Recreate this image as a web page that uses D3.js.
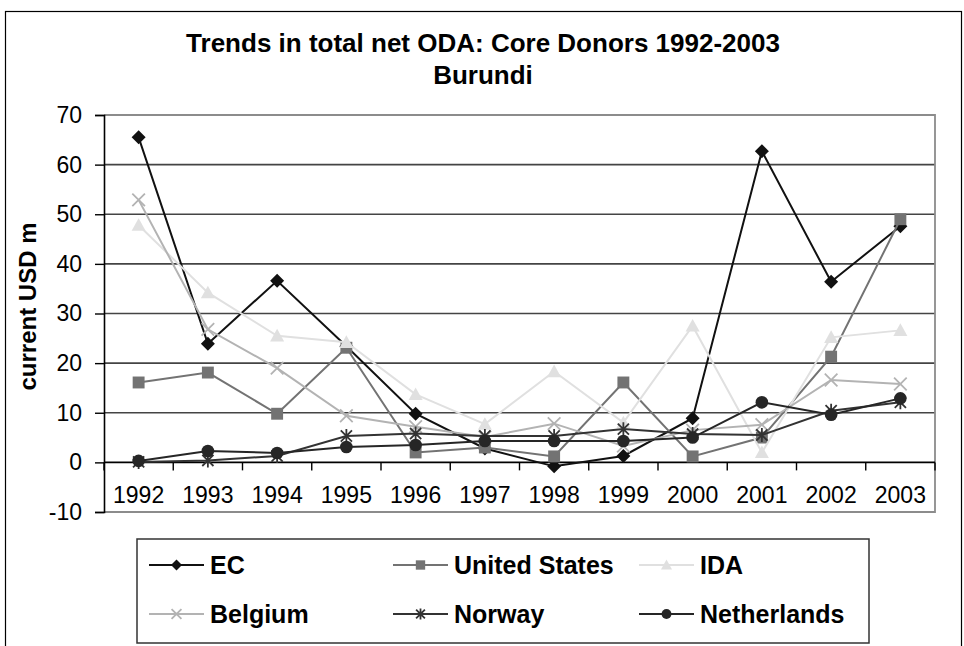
<!DOCTYPE html>
<html lang="en">
<head>
<meta charset="utf-8">
<title>Trends in total net ODA: Burundi</title>
<script src="https://cdn.jsdelivr.net/npm/d3@7"></script>
<style>
  body { margin: 0; background: #fff; }
  text { font-family: "Liberation Sans", Arial, sans-serif; }
</style>
</head>
<body>
<script>
// categories and series (current USD m)
var years = ["1992","1993","1994","1995","1996","1997","1998","1999","2000","2001","2002","2003"];
var ecVals          = [65.5, 23.9, 36.6, 23.4, 9.8, 2.8, -0.8, 1.3, 8.9, 62.7, 36.4, 47.6];
var usVals          = [16.1, 18.1, 9.8, 23.1, 2.0, 3.0, 1.2, 16.1, 1.2, 5.0, 21.3, 49.0];
var idaVals         = [47.8, 34.2, 25.5, 24.2, 13.7, 7.7, 18.3, 8.0, 27.5, 2.0, 25.2, 26.6];
var belgiumVals     = [52.9, 26.8, 19.0, 9.4, 7.2, 5.1, 7.8, 3.3, 6.5, 7.6, 16.6, 15.8];
var norwayVals      = [0.1, 0.4, 1.3, 5.3, 5.8, 5.3, 5.3, 6.7, 5.7, 5.5, 10.4, 12.1];
var netherlandsVals = [0.3, 2.3, 1.9, 3.1, 3.5, 4.3, 4.3, 4.3, 5.0, 12.1, 9.6, 12.9];
var yTicks = [-10, 0, 10, 20, 30, 40, 50, 60, 70];

var series = [
  {name: "EC",            values: ecVals,          color: "#111111", marker: "diamond"},
  {name: "United States", values: usVals,          color: "#737373", marker: "square"},
  {name: "IDA",           values: idaVals,         color: "#e0e0e0", marker: "triangle"},
  {name: "Belgium",       values: belgiumVals,     color: "#b3b3b3", marker: "x"},
  {name: "Norway",        values: norwayVals,      color: "#333333", marker: "star"},
  {name: "Netherlands",   values: netherlandsVals, color: "#262626", marker: "circle"}
];

var width = 964, height = 646;
var plot = {left: 104, right: 935, top: 115, bottom: 512};

var svg = d3.select("body").append("svg")
  .attr("width", width)
  .attr("height", height);

// outer chart frame
svg.append("rect")
  .attr("x", 5.5).attr("y", 11.5)
  .attr("width", 956).attr("height", 660)
  .attr("fill", "none").attr("stroke", "#000").attr("stroke-width", 1.2);

var x = d3.scaleBand().domain(years).range([plot.left, plot.right]);
var y = d3.scaleLinear().domain([-10, 70]).range([plot.bottom, plot.top]);
var cx = function(i) { return x(years[i]) + x.bandwidth() / 2; };

// title
svg.append("text").attr("x", 483).attr("y", 52)
  .attr("text-anchor", "middle").attr("font-size", 26).attr("font-weight", "bold")
  .text("Trends in total net ODA: Core Donors 1992-2003");
svg.append("text").attr("x", 483).attr("y", 84)
  .attr("text-anchor", "middle").attr("font-size", 26).attr("font-weight", "bold")
  .text("Burundi");

// gridlines
svg.append("g").selectAll("line")
  .data(yTicks.filter(function(d) { return d > -10 && d < 70 && d !== 0; }))
  .enter().append("line")
  .attr("x1", plot.left).attr("x2", plot.right)
  .attr("y1", function(d) { return y(d); }).attr("y2", function(d) { return y(d); })
  .attr("stroke", "#444").attr("stroke-width", 1.6);

// plot border (top, right, bottom) in gray
svg.append("path")
  .attr("d", "M" + plot.left + "," + y(70) + "H" + plot.right + "V" + y(-10) + "H" + plot.left)
  .attr("fill", "none").attr("stroke", "#8c8c8c").attr("stroke-width", 1.8);

// y axis
var yAxis = d3.axisLeft(y).tickValues(yTicks).tickSize(9).tickPadding(13)
  .tickFormat(function(d) { return String(d); });
var yg = svg.append("g").attr("transform", "translate(" + plot.left + ",0)").call(yAxis);
yg.select(".domain").attr("stroke", "#000").attr("stroke-width", 1.6);
yg.selectAll(".tick line").attr("stroke", "#000").attr("stroke-width", 1.4);
yg.selectAll("text").attr("font-size", 23).attr("fill", "#000")
  .attr("font-family", "Liberation Sans, Arial, sans-serif");

// x axis sits at zero, ticks between categories
var xg = svg.append("g").attr("transform", "translate(0," + y(0) + ")");
xg.append("line").attr("x1", plot.left).attr("x2", plot.right)
  .attr("stroke", "#000").attr("stroke-width", 1.6);
xg.selectAll(".sep").data(years.concat(["end"])).enter().append("line")
  .attr("x1", function(d, i) { return i < years.length ? x(d) : plot.right; })
  .attr("x2", function(d, i) { return i < years.length ? x(d) : plot.right; })
  .attr("y1", 0).attr("y2", 8)
  .attr("stroke", "#000").attr("stroke-width", 1.4);
xg.selectAll(".lbl").data(years).enter().append("text")
  .attr("x", function(d, i) { return cx(i); })
  .attr("y", 41)
  .attr("text-anchor", "middle").attr("font-size", 23)
  .text(function(d) { return d; });

// y title
svg.append("text")
  .attr("transform", "translate(36," + ((plot.top + plot.bottom) / 2 - 7) + ") rotate(-90)")
  .attr("text-anchor", "middle").attr("font-size", 24).attr("font-weight", "bold")
  .text("current USD m");

// marker drawing
function drawMarker(g, type, color, s) {
  var h = s / 2;
  if (type === "diamond") {
    g.append("path").attr("d", "M0," + (-h) + "L" + h + ",0L0," + h + "L" + (-h) + ",0Z").attr("fill", color);
  } else if (type === "square") {
    g.append("rect").attr("x", -h * 0.85).attr("y", -h * 0.85)
      .attr("width", s * 0.85).attr("height", s * 0.85).attr("fill", color);
  } else if (type === "triangle") {
    g.append("path").attr("d", "M0," + (-h) + "L" + h + "," + (h * 0.8) + "L" + (-h) + "," + (h * 0.8) + "Z").attr("fill", color);
  } else if (type === "x") {
    var k = h * 0.9;
    g.append("path").attr("d", "M" + (-k) + "," + (-k) + "L" + k + "," + k + "M" + (-k) + "," + k + "L" + k + "," + (-k))
      .attr("stroke", color).attr("stroke-width", 1.8).attr("fill", "none");
  } else if (type === "star") {
    var k2 = h * 0.8;
    g.append("path").attr("d", "M" + (-k2) + "," + (-k2) + "L" + k2 + "," + k2 + "M" + (-k2) + "," + k2 + "L" + k2 + "," + (-k2) + "M0," + (-h) + "L0," + h)
      .attr("stroke", color).attr("stroke-width", 1.8).attr("fill", "none");
  } else if (type === "circle") {
    g.append("circle").attr("r", h * 0.9).attr("fill", color);
  }
}

var line = d3.line()
  .x(function(d, i) { return cx(i); })
  .y(function(d) { return y(d); });

series.forEach(function(s) {
  var g = svg.append("g");
  g.append("path").attr("d", line(s.values))
    .attr("fill", "none").attr("stroke", s.color).attr("stroke-width", 2);
  s.values.forEach(function(v, i) {
    var m = g.append("g").attr("transform", "translate(" + cx(i) + "," + y(v) + ")");
    drawMarker(m, s.marker, s.color, 14);
  });
});

// legend
var legend = svg.append("g");
legend.append("rect")
  .attr("x", 137).attr("y", 539).attr("width", 732).attr("height", 104)
  .attr("fill", "#fff").attr("stroke", "#333").attr("stroke-width", 1.5);
var colX = [149, 393, 639], rowY = [565, 614];
series.forEach(function(s, i) {
  var lx = colX[i % 3], ly = rowY[Math.floor(i / 3)];
  var g = legend.append("g").attr("transform", "translate(" + lx + "," + ly + ")");
  g.append("line").attr("x1", 0).attr("x2", 55).attr("stroke", s.color).attr("stroke-width", 2);
  var m = g.append("g").attr("transform", "translate(27.5,0)");
  drawMarker(m, s.marker, s.color, 11);
  g.append("text").attr("x", 61).attr("y", 9)
    .attr("font-size", 25).attr("font-weight", "bold")
    .text(s.name);
});
</script>
</body>
</html>
